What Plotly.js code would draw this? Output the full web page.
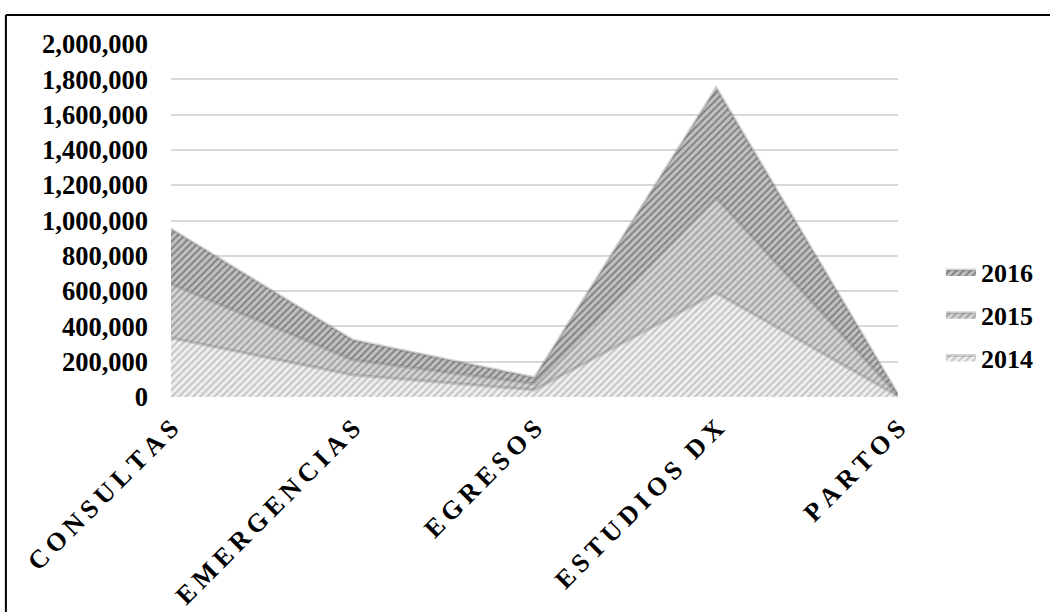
<!DOCTYPE html>
<html>
<head>
<meta charset="utf-8">
<script src="https://cdn.plot.ly/plotly-3.0.1.min.js"></script>
<style>
  html, body { margin: 0; padding: 0; background: #ffffff; }
  #chart { width: 1050px; height: 612px; }
</style>
</head>
<body>
<div id="chart"></div>
<script>
// Service categories (x axis)
const categories = ['CONSULTAS', 'EMERGENCIAS', 'EGRESOS', 'ESTUDIOS DX', 'PARTOS'];

// Letter-spaced versions of the category names for the tick labels
function spaced(word) {
  return word.split(' ').map(w => w.split('').join('\u2009')).join('\u2009\u2009\u2009');
}
const categoryLabels = categories.map(spaced);

// Yearly totals per service
const values2014 = [334000, 125000, 40000, 590000, 5000];
const values2015 = [306000, 85000, 35000, 537000, 5000];
const values2016 = [312000, 113000, 35000, 624000, 5000];

const serif = 'Liberation Serif, Times New Roman, serif';

function areaTrace(name, y, rank, bg, fg) {
  return {
    type: 'scatter',
    mode: 'lines',
    name: name,
    legendgroup: name,
    legendrank: rank,
    x: categories,
    y: y,
    stackgroup: 'one',
    line: { color: 'rgba(110,110,110,0.3)', width: 3 },
    fillcolor: bg,
    fillpattern: { shape: '/', size: 5, solidity: 0.35, fgcolor: fg, bgcolor: bg },
    hoverinfo: 'skip'
  };
}

const data = [
  areaTrace('2014', values2014, 3, '#eeeeee', '#c2c2c2'),
  areaTrace('2015', values2015, 2, '#d3d3d3', '#a0a0a0'),
  areaTrace('2016', values2016, 1, '#c0c0c0', '#7e7e7e')
];

const layout = {
  width: 1050,
  height: 612,
  paper_bgcolor: '#ffffff',
  plot_bgcolor: '#ffffff',
  margin: { l: 171, r: 148, t: 44, b: 215 },
  showlegend: true,
  legend: {
    x: 1.059, xanchor: 'left',
    y: 0.232, yanchor: 'middle',
    traceorder: 'grouped',
    tracegroupgap: 6,
    font: { family: serif, size: 26, color: '#000000', weight: 'bold' },
    itemwidth: 30,
    bgcolor: 'rgba(0,0,0,0)'
  },
  xaxis: {
    type: 'category',
    range: [0, 4],
    tickmode: 'array',
    tickvals: categories,
    ticktext: categoryLabels,
    tickangle: -45,
    showgrid: false,
    zeroline: false,
    showline: false,
    ticks: '',
    ticklabelstandoff: 10,
    tickfont: { family: serif, size: 26, color: '#000000', weight: 'bold' },
    fixedrange: true
  },
  yaxis: {
    range: [0, 2000000],
    dtick: 200000,
    tickformat: ',d',
    showgrid: true,
    gridcolor: '#d9d9d9',
    gridwidth: 2,
    zeroline: false,
    showline: false,
    ticks: '',
    ticklabelstandoff: 22,
    tickfont: { family: serif, size: 26.5, color: '#000000', weight: 'bold' },
    fixedrange: true
  },
  shapes: [
    // frame lines along the top and left of the figure
    { type: 'line', xref: 'paper', yref: 'paper', x0: -0.2271, x1: 1.3, y0: 1.0822, y1: 1.0822,
      line: { color: '#000000', width: 2 } },
    { type: 'line', xref: 'paper', yref: 'paper', x0: -0.2271, x1: -0.2271, y0: 1.0822, y1: -0.7,
      line: { color: '#000000', width: 2 } }
  ]
};

Plotly.newPlot('chart', data, layout, { displayModeBar: false, staticPlot: true });
</script>
</body>
</html>
